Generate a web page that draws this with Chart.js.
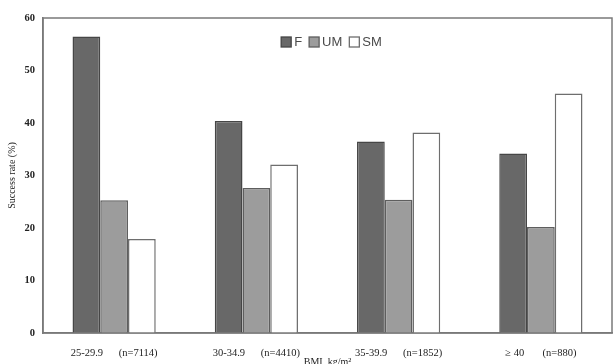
<!DOCTYPE html>
<html>
<head>
<meta charset="utf-8">
<script src="https://cdn.jsdelivr.net/npm/chart.js@4.4.1/dist/chart.umd.min.js"></script>
<style>
  html, body { margin: 0; padding: 0; background: #fff; }
  #wrap { width: 613px; height: 364px; }
</style>
</head>
<body>
<div id="wrap"><canvas id="c" width="613" height="364"></canvas></div>
<script>
// BMI groups with sample sizes
const bmiGroups = ['25-29.9', '30-34.9', '35-39.9', '\u2265 40'];
const sampleSizes = ['(n=7114)', '(n=4410)', '(n=1852)', '(n=880)'];

// Success rate (%) per outcome group
const seriesNames = ['F', 'UM', 'SM'];
const valuesF  = [56.5, 40.4, 36.5, 34.2];
const valuesUM = [25.3, 27.6, 25.4, 20.2];
const valuesSM = [17.9, 32.1, 38.2, 45.6];

const yTicks = [0, 10, 20, 30, 40, 50, 60];

// axis label: range, a gap, then the sample size
const gaps = [6, 6, 6, 7];
const categories = bmiGroups.map((g, i) => g + ' '.repeat(gaps[i]) + sampleSizes[i]);

// outline of the plot area
const framePlugin = {
  id: 'frame',
  afterDraw(chart) {
    const { ctx, chartArea: a } = chart;
    ctx.save();
    ctx.strokeStyle = '#7a7a7a';
    ctx.lineWidth = 1.5;
    ctx.strokeRect(a.left, a.top, a.right - a.left, a.bottom - a.top);
    ctx.restore();
  }
};

// one-row legend drawn inside the plot, near its top
const innerLegend = {
  id: 'innerLegend',
  afterDraw(chart) {
    const { ctx, chartArea: a } = chart;
    const box = 10, gapText = 3, gapItem = 7;
    ctx.save();
    ctx.font = '13px "Liberation Sans", Arial, sans-serif';
    ctx.textBaseline = 'middle';
    const items = chart.data.datasets.map(ds => ({
      ds, w: box + gapText + ctx.measureText(ds.label).width
    }));
    const total = items.reduce((s, it) => s + it.w, 0) + gapItem * (items.length - 1);
    let x = (a.left + a.right) / 2 + 4 - total / 2;
    const cy = a.top + 24;
    items.forEach(it => {
      ctx.fillStyle = it.ds.backgroundColor;
      ctx.fillRect(x, cy - box / 2, box, box);
      ctx.strokeStyle = it.ds.borderColor;
      ctx.lineWidth = 1.3;
      ctx.strokeRect(x, cy - box / 2, box, box);
      ctx.fillStyle = '#4a4a4a';
      ctx.fillText(it.ds.label, x + box + gapText, cy + 0.5);
      x += it.w + gapItem;
    });
    ctx.restore();
  }
};

new Chart(document.getElementById('c'), {
  type: 'bar',
  data: {
    labels: categories,
    datasets: [
      { label: seriesNames[0], data: valuesF,  backgroundColor: '#686868', borderColor: '#464646', borderWidth: 1.5 },
      { label: seriesNames[1], data: valuesUM, backgroundColor: '#9c9c9c', borderColor: '#5e5e5e', borderWidth: 1.5 },
      { label: seriesNames[2], data: valuesSM, backgroundColor: '#ffffff', borderColor: '#6e6e6e', borderWidth: 1.5 }
    ]
  },
  options: {
    responsive: false,
    animation: false,
    devicePixelRatio: 1,
    layout: { padding: { top: 18, right: 1, bottom: 0, left: 0 } },
    datasets: {
      bar: { barPercentage: 1.0, categoryPercentage: 0.585, borderSkipped: 'bottom' }
    },
    plugins: {
      legend: { display: false },
      tooltip: { enabled: false }
    },
    scales: {
      x: {
        grid: { display: false, drawTicks: false },
        border: { display: true, color: '#7a7a7a', width: 1.5 },
        ticks: {
          color: '#222',
          padding: 14,
          maxRotation: 0,
          autoSkip: false,
          font: { family: '"Liberation Serif", "Times New Roman", serif', size: 10.5 }
        },
        title: {
          display: true,
          text: 'BMI, kg/m\u00b2',
          color: '#222',
          padding: { top: 0, bottom: -3 },
          font: { family: '"Liberation Serif", "Times New Roman", serif', size: 10, lineHeight: 1 }
        },
        afterFit(scale) { scale.height = 31; }
      },
      y: {
        min: 0,
        max: 60,
        afterBuildTicks(scale) { scale.ticks = yTicks.map(v => ({ value: v })); },
        grid: { display: false, drawTicks: false },
        border: { display: true, color: '#7a7a7a', width: 1.5 },
        ticks: {
          color: '#222',
          padding: 8,
          font: { family: '"Liberation Serif", "Times New Roman", serif', size: 10.5, weight: 'bold' }
        },
        title: {
          display: true,
          text: 'Success rate (%)',
          color: '#222',
          padding: { top: 6, bottom: 0 },
          font: { family: '"Liberation Serif", "Times New Roman", serif', size: 10 }
        },
        afterFit(scale) { scale.width = 43; }
      }
    }
  },
  plugins: [framePlugin, innerLegend]
});
</script>
</body>
</html>
